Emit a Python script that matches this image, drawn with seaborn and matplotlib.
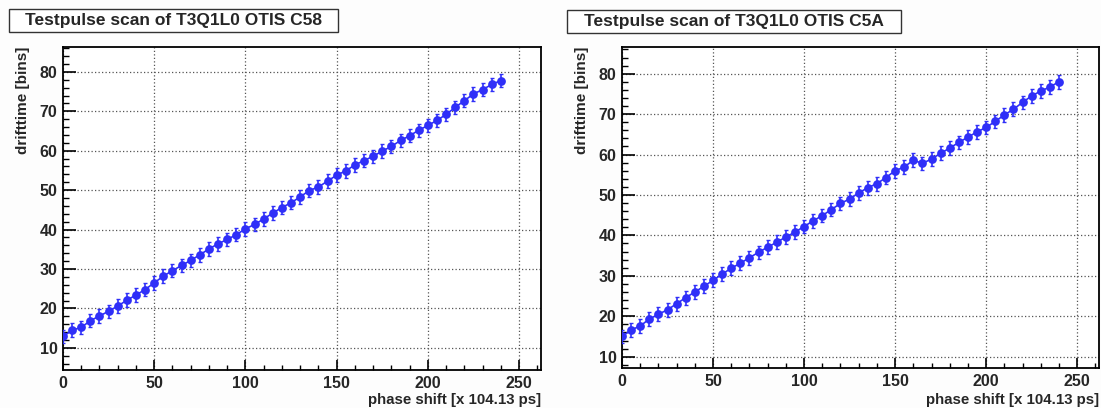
import numpy as np
import pandas as pd
import seaborn as sns
import matplotlib
matplotlib.use("Agg")
import matplotlib.pyplot as plt
from matplotlib.patches import Rectangle
from matplotlib.ticker import MultipleLocator

# Phase shift settings (units of 104.13 ps)
phase = [0, 5, 10, 15, 20, 25, 30, 35, 40, 45, 50, 55, 60, 65, 70, 75, 80, 85, 90, 95,
         100, 105, 110, 115, 120, 125, 130, 135, 140, 145, 150, 155, 160, 165, 170, 175,
         180, 185, 190, 195, 200, 205, 210, 215, 220, 225, 230, 235, 240]

# Mean drift time per phase step, OTIS C58
drift_c58 = [12.9, 14.5, 15.2, 16.9, 18.1, 19.3, 20.6, 22.1, 23.4, 24.8, 26.5, 28.2, 29.6,
             30.9, 32.2, 33.6, 35.1, 36.4, 37.5, 38.7, 40.2, 41.3, 42.7, 44.2, 45.6, 46.8,
             48.3, 49.9, 50.8, 52.3, 53.8, 54.9, 56.4, 57.5, 58.6, 59.9, 61.1, 62.6, 63.8,
             65.2, 66.4, 67.7, 69.2, 71.0, 72.7, 74.4, 75.5, 76.8, 77.8]

# Mean drift time per phase step, OTIS C5A
drift_c5a = [15.0, 16.6, 17.6, 19.3, 20.5, 21.6, 23.1, 24.6, 26.0, 27.4, 28.9, 30.4, 31.9,
             33.1, 34.5, 35.8, 37.1, 38.3, 39.6, 40.8, 42.2, 43.6, 44.9, 46.4, 47.9, 49.0,
             50.5, 51.8, 52.8, 54.3, 56.0, 56.9, 58.6, 57.8, 58.9, 60.3, 61.6, 63.0, 64.3,
             65.6, 66.7, 68.2, 69.8, 71.2, 72.9, 74.5, 75.7, 76.7, 78.0]

spread_c58 = 1.7
spread_c5a = 1.7

titles = ["Testpulse scan of T3Q1L0 OTIS C58", "Testpulse scan of T3Q1L0 OTIS C5A"]
xlabel = "phase shift [x 104.13 ps]"
ylabel = "drifttime [bins]"

sns.set_theme(style="white")
plt.rcParams["font.family"] = ["Liberation Sans", "DejaVu Sans"]
plt.rcParams["font.weight"] = "bold"

W, H = 1101, 408
fig = plt.figure(figsize=(W / 100, H / 100), dpi=100)
fig.patch.set_facecolor("#fdfdfd")

blue = "#2f2ff8"

panels = [
    dict(y=drift_c58, err=spread_c58, title=titles[0],
         box=(9, 9, 338, 32), ax=(63, 47, 541, 370), ylim=(4.4, 86.3)),
    dict(y=drift_c5a, err=spread_c5a, title=titles[1],
         box=(567, 10, 901, 33), ax=(622, 47, 1099, 368), ylim=(7.2, 86.6)),
]

for p in panels:
    x0, y0, x1, y1 = p["ax"]
    ax = fig.add_axes([x0 / W, 1 - y1 / H, (x1 - x0) / W, (y1 - y0) / H])
    ax.set_facecolor("white")
    df = pd.DataFrame({"phase": phase, "drift": p["y"]})

    ax.errorbar(df["phase"], df["drift"], yerr=p["err"], fmt="none",
                ecolor=blue, elinewidth=1.2, capsize=1.6, capthick=1.0, zorder=3)
    sns.lineplot(data=df, x="phase", y="drift", ax=ax, color=blue, linewidth=1.2,
                 marker="o", markersize=6.3, markeredgewidth=0, zorder=4)

    ax.set_xlim(0, 262)
    ax.set_ylim(*p["ylim"])
    ax.xaxis.set_major_locator(MultipleLocator(50))
    ax.xaxis.set_minor_locator(MultipleLocator(10))
    ax.yaxis.set_major_locator(MultipleLocator(10))
    ax.yaxis.set_minor_locator(MultipleLocator(2))
    ax.grid(True, which="major", color="#555555", linestyle=(0, (1, 1.8)), linewidth=0.9)
    ax.set_axisbelow(True)

    for s in ax.spines.values():
        s.set_color("black")
        s.set_linewidth(1.3)

    ax.tick_params(axis="x", which="major", direction="in", length=7, width=1.2,
                   labelsize=11.5, pad=4, bottom=True, top=False, color="black")
    ax.tick_params(axis="x", which="minor", direction="in", length=3.5, width=1.0,
                   bottom=True, top=False, color="black")
    ax.tick_params(axis="y", which="major", direction="in", length=9, width=1.2,
                   labelsize=11.5, pad=4, left=True, right=False, color="black")
    ax.tick_params(axis="y", which="minor", direction="in", length=4.5, width=1.0,
                   left=True, right=False, color="black")
    for lab in ax.get_xticklabels() + ax.get_yticklabels():
        lab.set_fontweight("bold")

    ax.set_xlabel("")
    ax.set_ylabel("")
    fig.text(x1 / W, 1 - 400 / H, xlabel, ha="right", va="center",
             fontsize=10.8, fontweight="bold")
    fig.text((x0 - 40) / W, 1 - y0 / H, ylabel, ha="center", va="top",
             rotation=90, fontsize=11, fontweight="bold")

    bx0, by0, bx1, by1 = p["box"]
    fig.patches.append(Rectangle((bx0 / W, 1 - by1 / H), (bx1 - bx0) / W, (by1 - by0) / H,
                                 transform=fig.transFigure, facecolor="white",
                                 edgecolor="#333333", linewidth=1.0))
    fig.text((bx0 + bx1) / 2 / W, 1 - (by0 + by1) / 2 / H, p["title"],
             ha="center", va="center", fontsize=12.5, fontweight="bold")

fig.savefig("out.png", dpi=100, facecolor=fig.get_facecolor())
